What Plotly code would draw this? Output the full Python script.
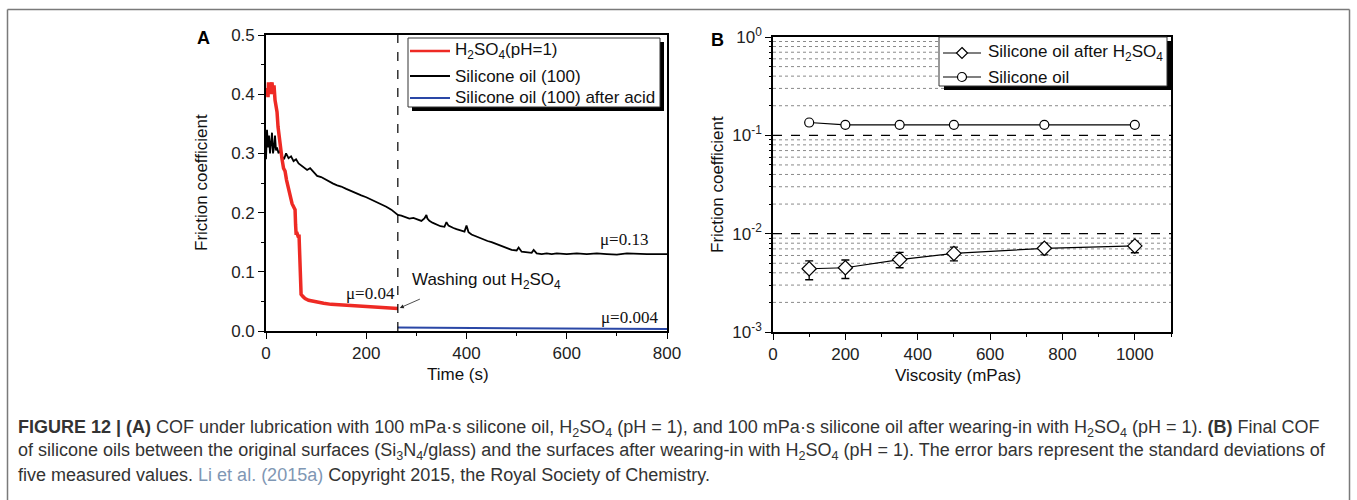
import plotly.graph_objects as go

W, H = 1357, 500

# ---------------- Panel A: friction coefficient vs time ----------------
acid_trace = [
    (0, 0.40), (2, 0.41), (4, 0.395), (5, 0.42), (7, 0.40), (8, 0.415), (10, 0.41),
    (12, 0.42), (14, 0.40), (16, 0.415), (18, 0.39), (20, 0.38), (22, 0.37), (24, 0.345),
    (26, 0.33), (28, 0.31), (30, 0.295), (32, 0.29), (35, 0.275), (38, 0.27), (41, 0.255),
    (44, 0.245), (47, 0.23), (50, 0.225), (52, 0.215), (55, 0.21), (58, 0.205), (59, 0.18),
    (60, 0.165), (62, 0.165), (64, 0.16), (66, 0.16), (67, 0.12), (68, 0.09), (69, 0.07),
    (70, 0.062), (74, 0.058), (78, 0.055), (85, 0.052), (95, 0.05), (105, 0.048),
    (115, 0.047), (130, 0.045), (150, 0.044), (170, 0.042), (190, 0.041), (210, 0.04),
    (230, 0.04), (250, 0.039), (263, 0.038),
]

oil_trace = [
    (0, 0.29), (2, 0.34), (4, 0.31), (6, 0.33), (8, 0.30), (10, 0.32), (12, 0.335),
    (14, 0.30), (16, 0.31), (18, 0.33), (20, 0.305), (22, 0.31), (25, 0.30), (28, 0.305),
    (32, 0.295), (36, 0.29), (40, 0.30), (45, 0.292), (50, 0.295), (55, 0.287), (60, 0.29),
    (65, 0.283), (70, 0.28), (76, 0.276), (82, 0.272), (88, 0.275), (95, 0.268),
    (102, 0.262), (110, 0.26), (118, 0.256), (126, 0.252), (134, 0.249), (142, 0.246),
    (150, 0.244), (160, 0.24), (170, 0.236), (180, 0.232), (190, 0.229), (200, 0.226),
    (210, 0.222), (220, 0.219), (230, 0.215), (240, 0.21), (250, 0.205), (258, 0.20),
    (263, 0.196), (270, 0.195), (278, 0.192), (286, 0.19), (294, 0.191), (302, 0.188),
    (310, 0.186), (316, 0.19), (320, 0.196), (322, 0.19), (326, 0.186), (332, 0.183),
    (340, 0.18), (348, 0.177), (356, 0.176), (360, 0.184), (364, 0.178), (368, 0.176),
    (374, 0.174), (380, 0.172), (388, 0.17), (396, 0.168), (400, 0.178), (404, 0.167),
    (410, 0.163), (418, 0.16), (426, 0.158), (434, 0.155), (442, 0.152), (450, 0.15),
    (460, 0.147), (470, 0.143), (480, 0.14), (490, 0.137), (500, 0.136), (504, 0.141),
    (510, 0.134), (520, 0.133), (530, 0.132), (534, 0.137), (540, 0.131), (550, 0.13),
    (560, 0.131), (570, 0.13), (580, 0.131), (600, 0.13), (620, 0.131), (640, 0.13),
    (660, 0.131), (680, 0.13), (700, 0.129), (720, 0.131), (740, 0.13), (760, 0.13),
    (780, 0.13), (800, 0.13),
]

after_acid_trace = [
    (263, 0.006), (300, 0.0058), (400, 0.0055), (500, 0.005), (600, 0.0048),
    (620, 0.004), (700, 0.0035), (800, 0.0032),
]

washing_time = 263

# ---------------- Panel B: final COF vs viscosity ----------------
viscosity = [100, 200, 350, 500, 750, 1000]
cof_oil = [0.135, 0.128, 0.128, 0.128, 0.128, 0.128]
cof_after_acid = [0.0044, 0.0045, 0.00545, 0.0063, 0.0071, 0.0075]
err_plus = [0.0009, 0.0009, 0.001, 0.001, 0.0009, 0.0009]
err_minus = [0.001, 0.001, 0.00095, 0.001, 0.001, 0.0011]

log_tick_vals = [1e-3, 1e-2, 1e-1, 1]
log_tick_text = ["10<sup>-3</sup>", "10<sup>-2</sup>", "10<sup>-1</sup>", "10<sup>0</sup>"]
minor_log_vals = [m * d for d in (1e-3, 1e-2, 1e-1) for m in range(2, 10)]

# ---------------- helpers for pixel placement ----------------
def px(x):
    return x / W

def py(y):
    return 1 - y / H

FONT = "Liberation Sans, Arial, sans-serif"
SERIF = "Liberation Serif, Times New Roman, serif"
RED = "#ee2a24"
BLUE = "#2a47a6"

fig = go.Figure()

fig.add_trace(go.Scatter(
    x=[p[0] for p in oil_trace], y=[p[1] for p in oil_trace],
    mode="lines", line=dict(color="black", width=1.8), xaxis="x", yaxis="y",
    name="Silicone oil (100)", showlegend=False))
fig.add_trace(go.Scatter(
    x=[p[0] for p in acid_trace], y=[p[1] for p in acid_trace],
    mode="lines", line=dict(color=RED, width=3.5), xaxis="x", yaxis="y",
    name="H2SO4(pH=1)", showlegend=False))
fig.add_trace(go.Scatter(
    x=[p[0] for p in after_acid_trace], y=[p[1] for p in after_acid_trace],
    mode="lines", line=dict(color=BLUE, width=2), xaxis="x", yaxis="y",
    name="Silicone oil (100) after acid", showlegend=False))

fig.add_trace(go.Scatter(
    x=viscosity, y=cof_oil, mode="lines+markers",
    line=dict(color="black", width=1.2),
    marker=dict(symbol="circle", size=9, color="white", line=dict(color="black", width=1.2)),
    xaxis="x2", yaxis="y2", name="Silicone oil", showlegend=False))
fig.add_trace(go.Scatter(
    x=viscosity, y=cof_after_acid, mode="lines+markers",
    line=dict(color="black", width=1.2),
    marker=dict(symbol="diamond", size=11, color="white", line=dict(color="black", width=1.2)),
    error_y=dict(type="data", array=err_plus, arrayminus=err_minus, color="black",
                 thickness=1.3, width=4),
    xaxis="x2", yaxis="y2", name="Silicone oil after H2SO4", showlegend=False))

axis_common = dict(
    showline=True, linecolor="black", linewidth=1.6, mirror=True,
    ticks="outside", ticklen=6, tickwidth=1.3, tickcolor="black",
    tickfont=dict(family=FONT, size=17, color="#222"),
    showgrid=False, zeroline=False, automargin=False,
)

fig.update_layout(
    template="none",
    width=W, height=H, autosize=False,
    margin=dict(l=0, r=0, t=0, b=0, pad=0),
    paper_bgcolor="white", plot_bgcolor="white",
    showlegend=False,
    xaxis=dict(domain=[px(266), px(667)], range=[0, 800], anchor="y",
               tickvals=[0, 200, 400, 600, 800],
               minor=dict(ticks="outside", ticklen=3, dtick=100, tick0=0, tickcolor="black"),
               **axis_common),
    yaxis=dict(domain=[py(331), py(35)], range=[0, 0.5], anchor="x",
               tickvals=[0, 0.1, 0.2, 0.3, 0.4, 0.5], tickformat=".1f",
               minor=dict(ticks="outside", ticklen=3, dtick=0.05, tick0=0, tickcolor="black"),
               **axis_common),
    xaxis2=dict(domain=[px(773), px(1171)], range=[0, 1100], anchor="y2",
                tickvals=[0, 200, 400, 600, 800, 1000],
                minor=dict(ticks="outside", ticklen=3, dtick=100, tick0=0, tickcolor="black"),
                **axis_common),
    yaxis2=dict(domain=[py(332), py(37)], type="log", range=[-3, 0], anchor="x2",
                tickmode="array", tickvals=log_tick_vals, ticktext=log_tick_text,
                **axis_common),
    # companion axis carrying only the short minor ticks of the log scale
    yaxis4=dict(overlaying="y2", anchor="x2", side="left", type="log", range=[-3, 0],
                tickmode="array", tickvals=minor_log_vals, ticktext=[""] * len(minor_log_vals),
                ticks="outside", ticklen=3, tickwidth=1, tickcolor="black", automargin=False,
                showline=False, showgrid=False, zeroline=False, showticklabels=False),
)
# attach an invisible trace so the companion axis is drawn
fig.add_trace(go.Scatter(x=[None], y=[None], xaxis="x2", yaxis="y4",
                         showlegend=False, hoverinfo="skip"))

shapes = []
annotations = []


def label(x, y, text, size=17, family=FONT, color="#111", xanchor="center",
          yanchor="middle", angle=0):
    annotations.append(dict(xref="paper", yref="paper", x=px(x), y=py(y), text=text,
                            xanchor=xanchor, yanchor=yanchor, textangle=angle,
                            showarrow=False, font=dict(family=family, size=size, color=color)))


# gridlines of panel B
for v in minor_log_vals:
    shapes.append(dict(type="line", xref="x2", yref="y2", x0=0, x1=1100, y0=v, y1=v,
                       layer="below", line=dict(color="#8a8a8a", width=1, dash="dot")))
for v in (1e-2, 1e-1):
    shapes.append(dict(type="line", xref="x2", yref="y2", x0=0, x1=1100, y0=v, y1=v,
                       layer="below", line=dict(color="black", width=1.2, dash="dash")))

# outer frame of the figure
for x0, y0, x1, y1 in [(7.5, 9.5, 7.5, 500), (7.5, 9.5, 1349.5, 9.5),
                       (1349.5, 9.5, 1349.5, 500)]:
    shapes.append(dict(type="line", xref="paper", yref="paper", x0=px(x0), x1=px(x1),
                       y0=py(y0), y1=py(y1), line=dict(color="#7a7a7a", width=1.5)))

# washing-out marker line
shapes.append(dict(type="line", xref="x", yref="y", x0=washing_time, x1=washing_time,
                   y0=0, y1=0.5, line=dict(color="black", width=1.2, dash="dash")))

# legend A: shadow, box, samples, labels
shapes.append(dict(type="rect", xref="paper", yref="paper", x0=px(412), x1=px(664),
                   y0=py(111), y1=py(42), fillcolor="black", line=dict(width=0)))
shapes.append(dict(type="rect", xref="paper", yref="paper", x0=px(408), x1=px(660),
                   y0=py(107), y1=py(38), fillcolor="white",
                   line=dict(color="#333", width=1)))
legend_a = [("H<sub>2</sub>SO<sub>4</sub>(pH=1)", RED, 51, 2.5),
            ("Silicone oil (100)", "black", 76, 2),
            ("Silicone oil (100) after acid", BLUE, 98, 2)]
for text, color, yc, lw in legend_a:
    shapes.append(dict(type="line", xref="paper", yref="paper", x0=px(410), x1=px(450),
                       y0=py(yc), y1=py(yc), line=dict(color=color, width=lw)))
    label(453, yc, text, xanchor="left")

# legend B
shapes.append(dict(type="rect", xref="paper", yref="paper", x0=px(944), x1=px(1172),
                   y0=py(90), y1=py(41), fillcolor="black", line=dict(width=0)))
shapes.append(dict(type="rect", xref="paper", yref="paper", x0=px(939), x1=px(1167),
                   y0=py(86), y1=py(37), fillcolor="white",
                   line=dict(color="#333", width=1)))
legend_b = [("Silicone oil after H<sub>2</sub>SO<sub>4</sub>", "diamond", 53),
            ("Silicone oil", "circle", 77)]
for text, sym, yc in legend_b:
    shapes.append(dict(type="line", xref="paper", yref="paper", x0=px(943), x1=px(981),
                       y0=py(yc), y1=py(yc), line=dict(color="black", width=1.2)))
    cx = 962
    if sym == "circle":
        shapes.append(dict(type="circle", xref="paper", yref="paper",
                           x0=px(cx - 4.5), x1=px(cx + 4.5), y0=py(yc + 4.5), y1=py(yc - 4.5),
                           fillcolor="white", line=dict(color="black", width=1.2)))
    else:
        r = 5.5
        path = (f"M {px(cx)},{py(yc - r)} L {px(cx + r)},{py(yc)} "
                f"L {px(cx)},{py(yc + r)} L {px(cx - r)},{py(yc)} Z")
        shapes.append(dict(type="path", xref="paper", yref="paper", path=path,
                           fillcolor="white", line=dict(color="black", width=1.2)))
    label(986, yc, text, xanchor="left")

# value labels in panel A
for text, t, mu in [("μ=0.04", 208, 0.063), ("μ=0.13", 714, 0.154), ("μ=0.004", 726, 0.022)]:
    annotations.append(dict(xref="x", yref="y", x=t, y=mu, text=text, showarrow=False,
                            xanchor="center", yanchor="middle",
                            font=dict(family=SERIF, size=17, color="#111")))
annotations.append(dict(xref="x", yref="y", x=288, y=0.085, xanchor="left", yanchor="middle",
                        text="Washing out H<sub>2</sub>SO<sub>4</sub>", showarrow=False,
                        font=dict(family=FONT, size=17, color="#111")))
annotations.append(dict(xref="x", yref="y", x=267, y=0.039, ax=310, ay=0.055,
                        axref="x", ayref="y", text="", showarrow=True, arrowhead=2,
                        arrowsize=1, arrowwidth=0.8, arrowcolor="#222"))

# panel letters
label(203, 38, "<b>A</b>", size=18, color="black")
label(717, 40, "<b>B</b>", size=18, color="black")

# axis titles
label(201, 183, "Friction coefficient", angle=-90)
label(717, 185, "Friction coefficient", angle=-90)
label(458, 374, "Time (s)")
label(958, 375, "Viscosity (mPas)")

# caption
LINK = "#7f97b4"
caption_lines = [
    "<b>FIGURE 12 | (A)</b> COF under lubrication with 100 mPa·s silicone oil, "
    "H<sub>2</sub>SO<sub>4</sub> (pH = 1), and 100 mPa·s silicone oil after wearing-in with "
    "H<sub>2</sub>SO<sub>4</sub> (pH = 1). <b>(B)</b> Final COF",
    "of silicone oils between the original surfaces (Si<sub>3</sub>N<sub>4</sub>/glass) and the "
    "surfaces after wearing-in with H<sub>2</sub>SO<sub>4</sub> (pH = 1). The error bars "
    "represent the standard deviations of",
    "five measured values. <span style='color:" + LINK + "'>Li et al. (2015a)</span> "
    "Copyright 2015, the Royal Society of Chemistry.",
]
for i, line in enumerate(caption_lines):
    label(16, 428 + 23.5 * i, line, size=18, color="#333", xanchor="left")

fig.update_layout(shapes=shapes, annotations=annotations)

fig.write_html("out.html")
